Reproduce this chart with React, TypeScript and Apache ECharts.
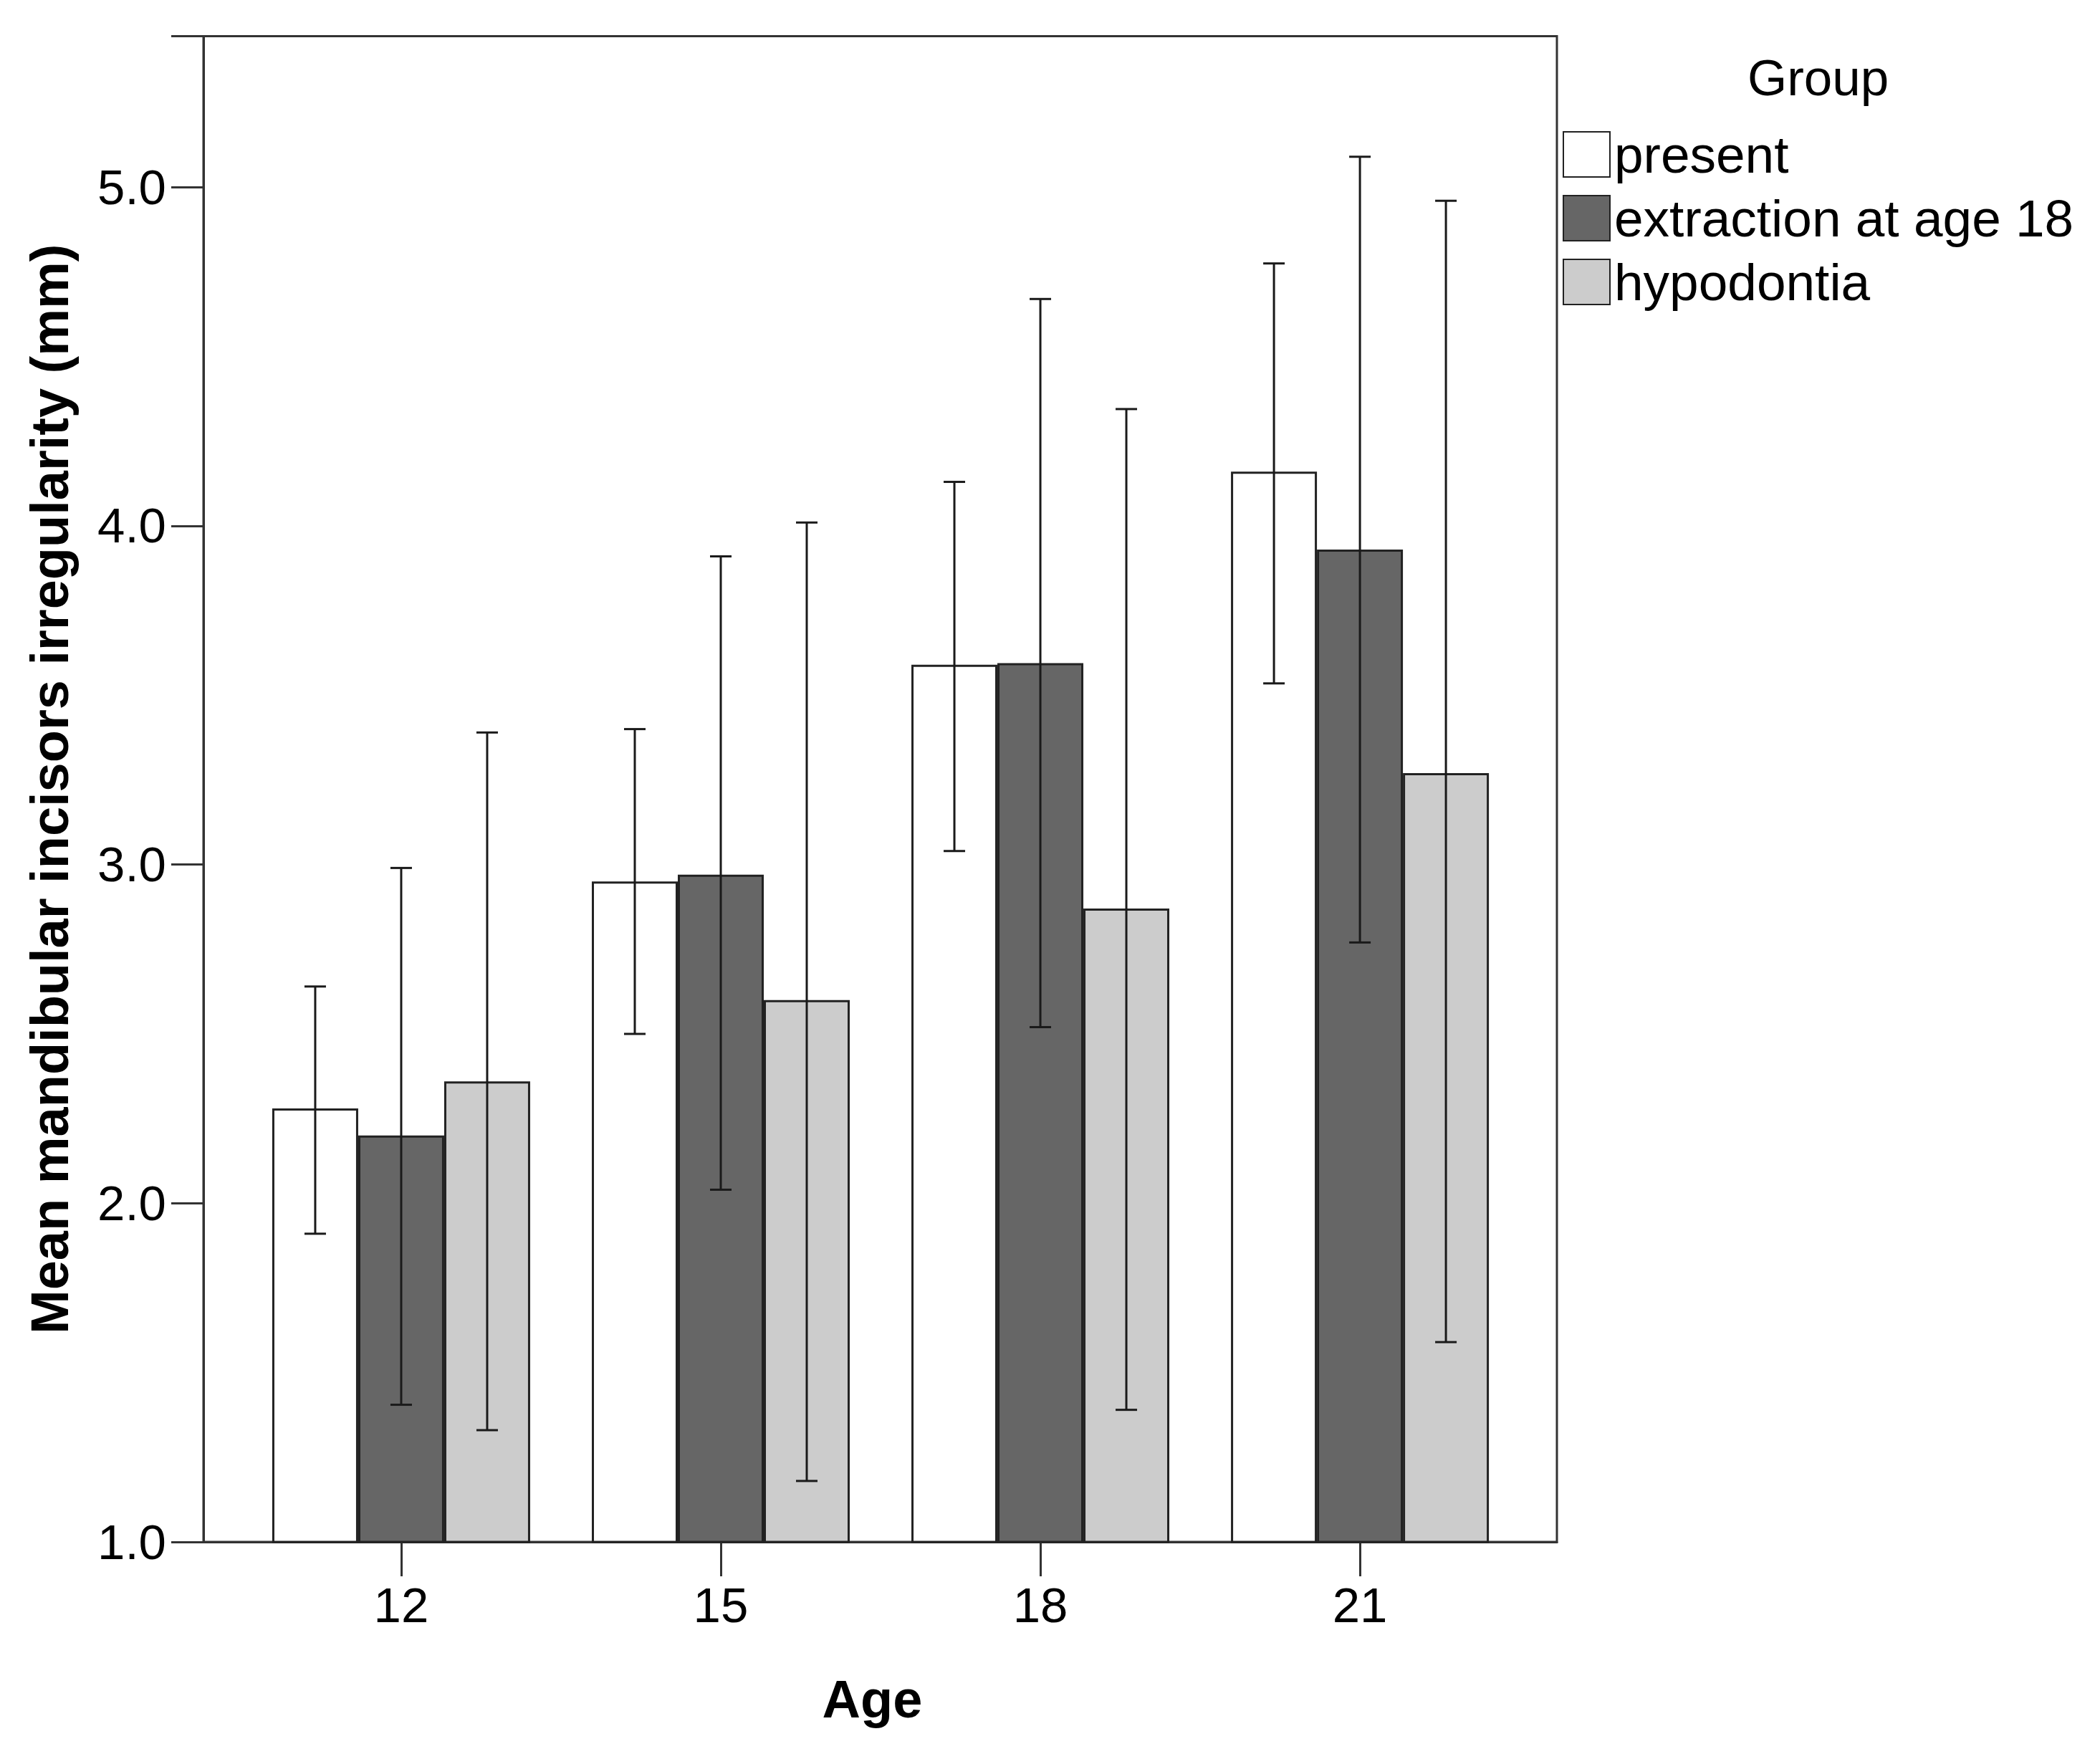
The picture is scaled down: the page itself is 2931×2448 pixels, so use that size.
import React, { useEffect, useRef } from "react";
import * as echarts from "echarts";

const AGES = [12, 15, 18, 21];
const GROUPS = ["present", "extraction at age 18", "hypodontia"];
const PRESENT_MEAN = [2.28, 2.95, 3.59, 4.16];
const PRESENT_LO = [1.91, 2.5, 3.04, 3.535];
const PRESENT_HI = [2.64, 3.4, 4.13, 4.775];
const EXTRACTION_MEAN = [2.2, 2.97, 3.595, 3.93];
const EXTRACTION_LO = [1.405, 2.04, 2.52, 2.77];
const EXTRACTION_HI = [2.99, 3.91, 4.67, 5.09];
const HYPODONTIA_MEAN = [2.36, 2.6, 2.87, 3.27];
const HYPODONTIA_LO = [1.33, 1.18, 1.39, 1.59];
const HYPODONTIA_HI = [3.39, 4.01, 4.345, 4.96];
const Y_TICKS = [1, 2, 3, 4, 5];

const MEANS = [PRESENT_MEAN, EXTRACTION_MEAN, HYPODONTIA_MEAN];
const LOS = [PRESENT_LO, EXTRACTION_LO, HYPODONTIA_LO];
const HIS = [PRESENT_HI, EXTRACTION_HI, HYPODONTIA_HI];
const FILLS = ["#ffffff", "#666666", "#cccccc"];

const W = 2931;
const H = 2448;
const BAR_W = 120;
const CAP = 15;
const FONT = "'Liberation Sans', Arial, Helvetica, sans-serif";

export default function App() {
  const ref = useRef<HTMLDivElement>(null);
  useEffect(() => {
    document.body.style.margin = "0";
    if (!ref.current) return;
    const chart = echarts.init(ref.current, null, { renderer: "svg" });

    const barSeries = GROUPS.map((g, k) => ({
      type: "bar",
      name: g,
      barWidth: BAR_W,
      barGap: "0%",
      data: AGES.map((a, i) => [a, MEANS[k][i]]),
      itemStyle: { color: FILLS[k], borderColor: "#222222", borderWidth: 3 },
      z: 2,
    }));

    const errSeries = GROUPS.map((g, k) => ({
      type: "custom",
      name: g + " error",
      data: AGES.map((a, i) => [a, LOS[k][i], HIS[k][i]]),
      encode: { x: 0, y: [1, 2] },
      z: 5,
      clip: false,
      renderItem: (params: any, api: any) => {
        const x = api.value(0);
        const lo = api.coord([x, api.value(1)]);
        const hi = api.coord([x, api.value(2)]);
        const cx = lo[0] + (k - 1) * BAR_W;
        const style = { stroke: "#1a1a1a", lineWidth: 3 };
        return {
          type: "group",
          children: [
            { type: "line", shape: { x1: cx, y1: lo[1], x2: cx, y2: hi[1] }, style },
            { type: "line", shape: { x1: cx - CAP, y1: lo[1], x2: cx + CAP, y2: lo[1] }, style },
            { type: "line", shape: { x1: cx - CAP, y1: hi[1], x2: cx + CAP, y2: hi[1] }, style },
          ],
        };
      },
    }));

    chart.setOption({
      animation: false,
      backgroundColor: "#ffffff",
      title: {
        text: "Group",
        left: 2434,
        top: 68,
        textStyle: { fontFamily: FONT, fontSize: 71, fontWeight: "normal", color: "#000" },
      },
      legend: {
        data: GROUPS,
        orient: "vertical",
        left: 2181,
        top: 179,
        icon: "rect",
        itemWidth: 65,
        itemHeight: 63,
        itemGap: 16,
        padding: 0,
        textStyle: { fontFamily: FONT, fontSize: 73, color: "#000", padding: [0, 0, 0, 1] },
      },
      grid: {
        left: 284,
        right: W - 2173,
        top: 50.5,
        bottom: H - 2152,
        show: true,
        borderColor: "#333333",
        borderWidth: 3,
        containLabel: false,
      },
      xAxis: {
        type: "value",
        min: 10.144,
        max: 22.849,
        name: "Age",
        nameLocation: "middle",
        nameGap: 182,
        nameTextStyle: { fontFamily: FONT, fontSize: 74, fontWeight: "bold", color: "#000", padding: [0, 22, 0, 0] },
        axisLine: { show: true, lineStyle: { color: "#333333", width: 3 } },
        axisTick: { show: true, length: 48, customValues: AGES, lineStyle: { color: "#333333", width: 3 } },
        axisLabel: {
          customValues: AGES,
          margin: 54,
          fontFamily: FONT,
          fontSize: 69,
          color: "#000",
        },
        splitLine: { show: false },
      },
      yAxis: {
        type: "value",
        min: 1,
        max: 5.446,
        interval: 1,
        name: "Mean mandibular incisors irregularity (mm)",
        nameLocation: "middle",
        nameGap: 178,
        nameTextStyle: { fontFamily: FONT, fontSize: 74, fontWeight: "bold", color: "#000" },
        axisLine: { show: true, lineStyle: { color: "#333333", width: 3 } },
        axisTick: { show: true, length: 45, lineStyle: { color: "#333333", width: 3 } },
        axisLabel: {
          margin: 52,
          fontFamily: FONT,
          fontSize: 69,
          color: "#000",
          customValues: Y_TICKS,
          formatter: (v: number) => v.toFixed(1),
        },
        splitLine: { show: false },
      },
      series: [...barSeries, ...errSeries],
    });
    return () => chart.dispose();
  }, []);
  return <div ref={ref} style={{ width: W, height: H }} />;
}
